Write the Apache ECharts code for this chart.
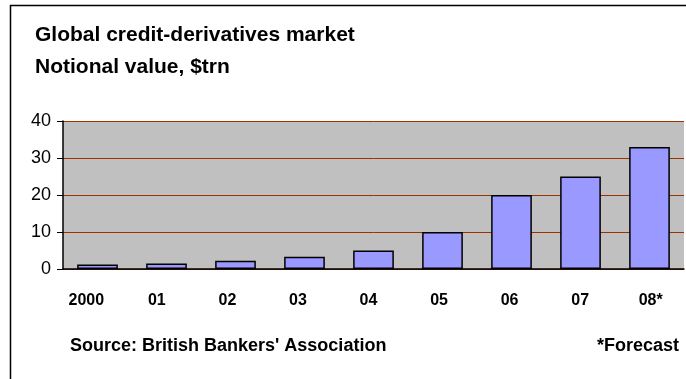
<!DOCTYPE html>
<html><head><meta charset="utf-8">
<script src="https://cdn.jsdelivr.net/npm/echarts@6/dist/echarts.min.js"></script>
<style>html,body{margin:0;padding:0;background:#fff}#c{width:686px;height:379px}</style>
</head><body><div id="c"></div>
<script>
const categories = ['2000','01','02','03','04','05','06','07','08*'];
const values = [1.2, 1.5, 2.2, 3.3, 5.0, 10, 20, 25, 33];
const yTicks = [0, 10, 20, 30, 40];
const titleLines = ['Global credit-derivatives market', 'Notional value, $trn'];
const sourceText = "Source: British Bankers' Association";
const noteText = '*Forecast';

const FONT = '"Liberation Sans", Arial, sans-serif';
const chart = echarts.init(document.getElementById('c'), null, {renderer:'canvas'});
chart.setOption({
  animation: false,
  backgroundColor: '#fff',
  title: {
    text: titleLines.join('\n'),
    left: 30, top: 14,
    textStyle: {fontFamily: FONT, fontWeight: 'bold', fontSize: 21, lineHeight: 32, color: '#000'}
  },
  graphic: [
    {type: 'rect', shape: {x: 10.5, y: 5.5, width: 700, height: 400}, style: {fill: 'none', stroke: '#000', lineWidth: 1.5}, silent: true},
    {type: 'text', left: 70, top: 337, style: {text: sourceText, font: 'bold 18px ' + FONT, fill: '#000'}},
    {type: 'text', right: 7, top: 337, style: {text: noteText, font: 'bold 18px ' + FONT, fill: '#000'}}
  ],
  grid: [
    {left: 63, right: 2, top: 121, bottom: 110, backgroundColor: '#C0C0C0', show: true, borderWidth: 0},
    {left: 51, right: -16, top: 121, bottom: 110, show: false}
  ],
  xAxis: [{
    type: 'category', data: categories, gridIndex: 0,
    axisLine: {show: true, lineStyle: {color: '#000', width: 1.5}},
    axisTick: {show: false},
    axisLabel: {show: false}
  }, {
    type: 'category', data: categories, gridIndex: 1,
    axisLine: {show: false}, axisTick: {show: false}, splitLine: {show: false},
    axisLabel: {margin: 24, fontFamily: FONT, fontWeight: 'bold', fontSize: 16, color: '#000'}
  }],
  yAxis: [{
    type: 'value', gridIndex: 0, min: yTicks[0], max: yTicks[yTicks.length-1], interval: 10,
    axisLine: {show: true, lineStyle: {color: '#000', width: 1.5}},
    axisTick: {show: true, length: 6, lineStyle: {color: '#000'}},
    axisLabel: {margin: 12, fontFamily: FONT, fontSize: 18, color: '#000'},
    splitLine: {show: true, lineStyle: {color: '#993300', width: 1}}
  }, {
    type: 'value', gridIndex: 1, min: 0, max: 40, show: false
  }],
  series: [{
    type: 'bar', data: values, barWidth: '59%', xAxisIndex: 0, yAxisIndex: 0,
    itemStyle: {color: '#9999FF', borderColor: '#000', borderWidth: 1.5}
  }]
});
</script></body></html>
